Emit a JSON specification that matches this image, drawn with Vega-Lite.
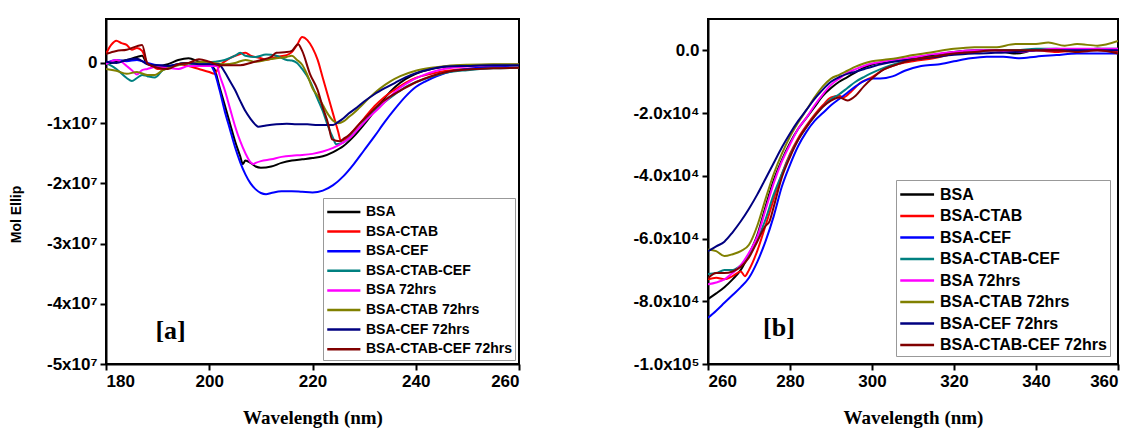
{
"$schema":"https://vega.github.io/schema/vega-lite/v6.json",
"background":"white",
"padding":{"left":8,"top":18,"right":5,"bottom":0},
"spacing":110,
"datasets":{
"a":[
{"s":"BSA","x":180,"y":-0.02e7},{"s":"BSA","x":182,"y":0.02e7},{"s":"BSA","x":184,"y":0.05e7},{"s":"BSA","x":186,"y":0.1e7},{"s":"BSA","x":187,"y":0.12e7},{"s":"BSA","x":188,"y":-0.02e7},{"s":"BSA","x":190,"y":-0.05e7},{"s":"BSA","x":192,"y":-0.02e7},{"s":"BSA","x":194,"y":0.05e7},{"s":"BSA","x":196,"y":0.08e7},{"s":"BSA","x":198,"y":0.02e7},{"s":"BSA","x":200,"y":-0.02e7},{"s":"BSA","x":201,"y":-0.1e7},{"s":"BSA","x":202,"y":-0.4e7},{"s":"BSA","x":203,"y":-0.7e7},{"s":"BSA","x":204,"y":-1.0e7},{"s":"BSA","x":205,"y":-1.3e7},{"s":"BSA","x":206,"y":-1.55e7},{"s":"BSA","x":206.5,"y":-1.68e7},{"s":"BSA","x":207,"y":-1.62e7},{"s":"BSA","x":208,"y":-1.66e7},{"s":"BSA","x":209,"y":-1.72e7},{"s":"BSA","x":210,"y":-1.74e7},{"s":"BSA","x":212,"y":-1.72e7},{"s":"BSA","x":214,"y":-1.66e7},{"s":"BSA","x":216,"y":-1.62e7},{"s":"BSA","x":218,"y":-1.6e7},{"s":"BSA","x":220,"y":-1.58e7},{"s":"BSA","x":222,"y":-1.55e7},{"s":"BSA","x":224,"y":-1.48e7},{"s":"BSA","x":226,"y":-1.38e7},{"s":"BSA","x":228,"y":-1.22e7},{"s":"BSA","x":230,"y":-1.02e7},{"s":"BSA","x":232,"y":-0.8e7},{"s":"BSA","x":234,"y":-0.58e7},{"s":"BSA","x":236,"y":-0.4e7},{"s":"BSA","x":238,"y":-0.27e7},{"s":"BSA","x":240,"y":-0.18e7},{"s":"BSA","x":243,"y":-0.1e7},{"s":"BSA","x":246,"y":-0.06e7},{"s":"BSA","x":250,"y":-0.04e7},{"s":"BSA","x":255,"y":-0.03e7},{"s":"BSA","x":260,"y":-0.03e7},
{"s":"BSA-CTAB","x":180,"y":0.15e7},{"s":"BSA-CTAB","x":181,"y":0.3e7},{"s":"BSA-CTAB","x":182,"y":0.37e7},{"s":"BSA-CTAB","x":183,"y":0.33e7},{"s":"BSA-CTAB","x":184,"y":0.3e7},{"s":"BSA-CTAB","x":185,"y":0.22e7},{"s":"BSA-CTAB","x":186,"y":0.25e7},{"s":"BSA-CTAB","x":187,"y":0.2e7},{"s":"BSA-CTAB","x":188,"y":0.0},{"s":"BSA-CTAB","x":189,"y":-0.05e7},{"s":"BSA-CTAB","x":190,"y":-0.1e7},{"s":"BSA-CTAB","x":192,"y":-0.08e7},{"s":"BSA-CTAB","x":194,"y":-0.02e7},{"s":"BSA-CTAB","x":196,"y":-0.05e7},{"s":"BSA-CTAB","x":198,"y":-0.1e7},{"s":"BSA-CTAB","x":200,"y":-0.15e7},{"s":"BSA-CTAB","x":201,"y":-0.18e7},{"s":"BSA-CTAB","x":202,"y":-0.05e7},{"s":"BSA-CTAB","x":204,"y":0.08e7},{"s":"BSA-CTAB","x":206,"y":0.15e7},{"s":"BSA-CTAB","x":207,"y":0.17e7},{"s":"BSA-CTAB","x":208,"y":0.12e7},{"s":"BSA-CTAB","x":210,"y":0.08e7},{"s":"BSA-CTAB","x":211,"y":0.05e7},{"s":"BSA-CTAB","x":213,"y":0.1e7},{"s":"BSA-CTAB","x":215,"y":0.13e7},{"s":"BSA-CTAB","x":216,"y":0.18e7},{"s":"BSA-CTAB","x":217,"y":0.3e7},{"s":"BSA-CTAB","x":218,"y":0.43e7},{"s":"BSA-CTAB","x":219,"y":0.38e7},{"s":"BSA-CTAB","x":220,"y":0.25e7},{"s":"BSA-CTAB","x":221,"y":0.05e7},{"s":"BSA-CTAB","x":222,"y":-0.25e7},{"s":"BSA-CTAB","x":223,"y":-0.55e7},{"s":"BSA-CTAB","x":224,"y":-0.85e7},{"s":"BSA-CTAB","x":225,"y":-1.15e7},{"s":"BSA-CTAB","x":225.5,"y":-1.3e7},{"s":"BSA-CTAB","x":226,"y":-1.28e7},{"s":"BSA-CTAB","x":227,"y":-1.22e7},{"s":"BSA-CTAB","x":228,"y":-1.12e7},{"s":"BSA-CTAB","x":230,"y":-0.92e7},{"s":"BSA-CTAB","x":232,"y":-0.72e7},{"s":"BSA-CTAB","x":234,"y":-0.56e7},{"s":"BSA-CTAB","x":236,"y":-0.44e7},{"s":"BSA-CTAB","x":238,"y":-0.33e7},{"s":"BSA-CTAB","x":240,"y":-0.25e7},{"s":"BSA-CTAB","x":243,"y":-0.18e7},{"s":"BSA-CTAB","x":246,"y":-0.13e7},{"s":"BSA-CTAB","x":250,"y":-0.1e7},{"s":"BSA-CTAB","x":255,"y":-0.08e7},{"s":"BSA-CTAB","x":260,"y":-0.08e7},
{"s":"BSA-CEF","x":180,"y":0.0},{"s":"BSA-CEF","x":182,"y":0.05e7},{"s":"BSA-CEF","x":184,"y":0.03e7},{"s":"BSA-CEF","x":186,"y":0.05e7},{"s":"BSA-CEF","x":188,"y":0.0},{"s":"BSA-CEF","x":190,"y":-0.04e7},{"s":"BSA-CEF","x":192,"y":-0.05e7},{"s":"BSA-CEF","x":194,"y":-0.02e7},{"s":"BSA-CEF","x":196,"y":0.0},{"s":"BSA-CEF","x":198,"y":-0.02e7},{"s":"BSA-CEF","x":200,"y":-0.02e7},{"s":"BSA-CEF","x":201,"y":-0.15e7},{"s":"BSA-CEF","x":202,"y":-0.45e7},{"s":"BSA-CEF","x":203,"y":-0.8e7},{"s":"BSA-CEF","x":204,"y":-1.1e7},{"s":"BSA-CEF","x":205,"y":-1.4e7},{"s":"BSA-CEF","x":206,"y":-1.65e7},{"s":"BSA-CEF","x":207,"y":-1.85e7},{"s":"BSA-CEF","x":208,"y":-2.0e7},{"s":"BSA-CEF","x":209,"y":-2.1e7},{"s":"BSA-CEF","x":210,"y":-2.16e7},{"s":"BSA-CEF","x":211,"y":-2.18e7},{"s":"BSA-CEF","x":212,"y":-2.16e7},{"s":"BSA-CEF","x":214,"y":-2.13e7},{"s":"BSA-CEF","x":216,"y":-2.13e7},{"s":"BSA-CEF","x":218,"y":-2.14e7},{"s":"BSA-CEF","x":220,"y":-2.15e7},{"s":"BSA-CEF","x":222,"y":-2.12e7},{"s":"BSA-CEF","x":224,"y":-2.03e7},{"s":"BSA-CEF","x":226,"y":-1.88e7},{"s":"BSA-CEF","x":228,"y":-1.68e7},{"s":"BSA-CEF","x":230,"y":-1.45e7},{"s":"BSA-CEF","x":232,"y":-1.22e7},{"s":"BSA-CEF","x":234,"y":-0.98e7},{"s":"BSA-CEF","x":236,"y":-0.76e7},{"s":"BSA-CEF","x":238,"y":-0.56e7},{"s":"BSA-CEF","x":240,"y":-0.4e7},{"s":"BSA-CEF","x":242,"y":-0.3e7},{"s":"BSA-CEF","x":244,"y":-0.22e7},{"s":"BSA-CEF","x":247,"y":-0.14e7},{"s":"BSA-CEF","x":250,"y":-0.1e7},{"s":"BSA-CEF","x":255,"y":-0.06e7},{"s":"BSA-CEF","x":260,"y":-0.04e7},
{"s":"BSA-CTAB-CEF","x":180,"y":0.0},{"s":"BSA-CTAB-CEF","x":182,"y":-0.1e7},{"s":"BSA-CTAB-CEF","x":184,"y":-0.25e7},{"s":"BSA-CTAB-CEF","x":185,"y":-0.3e7},{"s":"BSA-CTAB-CEF","x":186,"y":-0.25e7},{"s":"BSA-CTAB-CEF","x":187,"y":-0.2e7},{"s":"BSA-CTAB-CEF","x":188,"y":-0.22e7},{"s":"BSA-CTAB-CEF","x":189.5,"y":-0.24e7},{"s":"BSA-CTAB-CEF","x":191,"y":-0.12e7},{"s":"BSA-CTAB-CEF","x":193,"y":-0.05e7},{"s":"BSA-CTAB-CEF","x":195,"y":0.0},{"s":"BSA-CTAB-CEF","x":197,"y":-0.02e7},{"s":"BSA-CTAB-CEF","x":199,"y":0.0},{"s":"BSA-CTAB-CEF","x":201,"y":0.02e7},{"s":"BSA-CTAB-CEF","x":203,"y":0.05e7},{"s":"BSA-CTAB-CEF","x":205,"y":0.12e7},{"s":"BSA-CTAB-CEF","x":206,"y":0.17e7},{"s":"BSA-CTAB-CEF","x":207,"y":0.12e7},{"s":"BSA-CTAB-CEF","x":209,"y":0.1e7},{"s":"BSA-CTAB-CEF","x":211,"y":0.14e7},{"s":"BSA-CTAB-CEF","x":213,"y":0.12e7},{"s":"BSA-CTAB-CEF","x":215,"y":0.05e7},{"s":"BSA-CTAB-CEF","x":216,"y":0.04e7},{"s":"BSA-CTAB-CEF","x":217,"y":0.0},{"s":"BSA-CTAB-CEF","x":218,"y":-0.1e7},{"s":"BSA-CTAB-CEF","x":219.5,"y":-0.3e7},{"s":"BSA-CTAB-CEF","x":221,"y":-0.6e7},{"s":"BSA-CTAB-CEF","x":222,"y":-0.8e7},{"s":"BSA-CTAB-CEF","x":223,"y":-1.05e7},{"s":"BSA-CTAB-CEF","x":224,"y":-1.25e7},{"s":"BSA-CTAB-CEF","x":224.6,"y":-1.35e7},{"s":"BSA-CTAB-CEF","x":226,"y":-1.32e7},{"s":"BSA-CTAB-CEF","x":227,"y":-1.25e7},{"s":"BSA-CTAB-CEF","x":228,"y":-1.17e7},{"s":"BSA-CTAB-CEF","x":230,"y":-0.98e7},{"s":"BSA-CTAB-CEF","x":232,"y":-0.8e7},{"s":"BSA-CTAB-CEF","x":234,"y":-0.65e7},{"s":"BSA-CTAB-CEF","x":236,"y":-0.52e7},{"s":"BSA-CTAB-CEF","x":238,"y":-0.4e7},{"s":"BSA-CTAB-CEF","x":240,"y":-0.32e7},{"s":"BSA-CTAB-CEF","x":243,"y":-0.23e7},{"s":"BSA-CTAB-CEF","x":246,"y":-0.16e7},{"s":"BSA-CTAB-CEF","x":250,"y":-0.12e7},{"s":"BSA-CTAB-CEF","x":255,"y":-0.09e7},{"s":"BSA-CTAB-CEF","x":260,"y":-0.08e7},
{"s":"BSA 72hrs","x":180,"y":-0.02e7},{"s":"BSA 72hrs","x":182,"y":0.05e7},{"s":"BSA 72hrs","x":183,"y":0.02e7},{"s":"BSA 72hrs","x":184,"y":-0.05e7},{"s":"BSA 72hrs","x":185,"y":-0.12e7},{"s":"BSA 72hrs","x":186,"y":-0.19e7},{"s":"BSA 72hrs","x":187,"y":-0.12e7},{"s":"BSA 72hrs","x":188,"y":-0.1e7},{"s":"BSA 72hrs","x":190,"y":-0.06e7},{"s":"BSA 72hrs","x":192,"y":-0.08e7},{"s":"BSA 72hrs","x":194,"y":-0.1e7},{"s":"BSA 72hrs","x":196,"y":-0.05e7},{"s":"BSA 72hrs","x":198,"y":-0.05e7},{"s":"BSA 72hrs","x":200,"y":-0.05e7},{"s":"BSA 72hrs","x":201.5,"y":-0.05e7},{"s":"BSA 72hrs","x":202,"y":-0.2e7},{"s":"BSA 72hrs","x":203,"y":-0.45e7},{"s":"BSA 72hrs","x":204,"y":-0.75e7},{"s":"BSA 72hrs","x":205,"y":-1.05e7},{"s":"BSA 72hrs","x":206,"y":-1.3e7},{"s":"BSA 72hrs","x":207,"y":-1.5e7},{"s":"BSA 72hrs","x":208,"y":-1.65e7},{"s":"BSA 72hrs","x":208.5,"y":-1.68e7},{"s":"BSA 72hrs","x":209,"y":-1.66e7},{"s":"BSA 72hrs","x":210,"y":-1.63e7},{"s":"BSA 72hrs","x":212,"y":-1.6e7},{"s":"BSA 72hrs","x":214,"y":-1.56e7},{"s":"BSA 72hrs","x":216,"y":-1.54e7},{"s":"BSA 72hrs","x":218,"y":-1.53e7},{"s":"BSA 72hrs","x":220,"y":-1.51e7},{"s":"BSA 72hrs","x":222,"y":-1.47e7},{"s":"BSA 72hrs","x":224,"y":-1.41e7},{"s":"BSA 72hrs","x":226,"y":-1.32e7},{"s":"BSA 72hrs","x":227.3,"y":-1.24e7},{"s":"BSA 72hrs","x":229,"y":-1.08e7},{"s":"BSA 72hrs","x":231,"y":-0.9e7},{"s":"BSA 72hrs","x":233,"y":-0.74e7},{"s":"BSA 72hrs","x":235,"y":-0.56e7},{"s":"BSA 72hrs","x":237,"y":-0.41e7},{"s":"BSA 72hrs","x":239,"y":-0.3e7},{"s":"BSA 72hrs","x":241,"y":-0.22e7},{"s":"BSA 72hrs","x":244,"y":-0.13e7},{"s":"BSA 72hrs","x":247,"y":-0.08e7},{"s":"BSA 72hrs","x":250,"y":-0.06e7},{"s":"BSA 72hrs","x":255,"y":-0.04e7},{"s":"BSA 72hrs","x":260,"y":-0.03e7},
{"s":"BSA-CTAB 72hrs","x":180,"y":-0.1e7},{"s":"BSA-CTAB 72hrs","x":182,"y":-0.13e7},{"s":"BSA-CTAB 72hrs","x":184,"y":-0.18e7},{"s":"BSA-CTAB 72hrs","x":186,"y":-0.15e7},{"s":"BSA-CTAB 72hrs","x":188,"y":-0.2e7},{"s":"BSA-CTAB 72hrs","x":189.5,"y":-0.2e7},{"s":"BSA-CTAB 72hrs","x":191,"y":-0.12e7},{"s":"BSA-CTAB 72hrs","x":193,"y":-0.06e7},{"s":"BSA-CTAB 72hrs","x":195,"y":-0.02e7},{"s":"BSA-CTAB 72hrs","x":197,"y":0.0},{"s":"BSA-CTAB 72hrs","x":199,"y":0.02e7},{"s":"BSA-CTAB 72hrs","x":201,"y":0.0},{"s":"BSA-CTAB 72hrs","x":203,"y":-0.02e7},{"s":"BSA-CTAB 72hrs","x":205,"y":0.0},{"s":"BSA-CTAB 72hrs","x":207,"y":0.05e7},{"s":"BSA-CTAB 72hrs","x":209,"y":0.02e7},{"s":"BSA-CTAB 72hrs","x":211,"y":0.05e7},{"s":"BSA-CTAB 72hrs","x":213,"y":0.08e7},{"s":"BSA-CTAB 72hrs","x":215,"y":0.1e7},{"s":"BSA-CTAB 72hrs","x":216,"y":0.12e7},{"s":"BSA-CTAB 72hrs","x":217,"y":0.05e7},{"s":"BSA-CTAB 72hrs","x":218,"y":-0.03e7},{"s":"BSA-CTAB 72hrs","x":219,"y":-0.2e7},{"s":"BSA-CTAB 72hrs","x":220,"y":-0.42e7},{"s":"BSA-CTAB 72hrs","x":221,"y":-0.55e7},{"s":"BSA-CTAB 72hrs","x":222,"y":-0.7e7},{"s":"BSA-CTAB 72hrs","x":223,"y":-0.85e7},{"s":"BSA-CTAB 72hrs","x":224,"y":-0.96e7},{"s":"BSA-CTAB 72hrs","x":225,"y":-1.0e7},{"s":"BSA-CTAB 72hrs","x":226,"y":-0.97e7},{"s":"BSA-CTAB 72hrs","x":227,"y":-0.9e7},{"s":"BSA-CTAB 72hrs","x":228,"y":-0.83e7},{"s":"BSA-CTAB 72hrs","x":229,"y":-0.75e7},{"s":"BSA-CTAB 72hrs","x":231,"y":-0.58e7},{"s":"BSA-CTAB 72hrs","x":233,"y":-0.43e7},{"s":"BSA-CTAB 72hrs","x":235,"y":-0.31e7},{"s":"BSA-CTAB 72hrs","x":237,"y":-0.22e7},{"s":"BSA-CTAB 72hrs","x":240,"y":-0.13e7},{"s":"BSA-CTAB 72hrs","x":243,"y":-0.08e7},{"s":"BSA-CTAB 72hrs","x":246,"y":-0.05e7},{"s":"BSA-CTAB 72hrs","x":250,"y":-0.03e7},{"s":"BSA-CTAB 72hrs","x":255,"y":-0.02e7},{"s":"BSA-CTAB 72hrs","x":260,"y":-0.02e7},
{"s":"BSA-CEF 72hrs","x":180,"y":0.02e7},{"s":"BSA-CEF 72hrs","x":182,"y":0.0},{"s":"BSA-CEF 72hrs","x":184,"y":0.05e7},{"s":"BSA-CEF 72hrs","x":186,"y":0.07e7},{"s":"BSA-CEF 72hrs","x":188,"y":-0.02e7},{"s":"BSA-CEF 72hrs","x":190,"y":-0.04e7},{"s":"BSA-CEF 72hrs","x":192,"y":-0.05e7},{"s":"BSA-CEF 72hrs","x":194,"y":-0.02e7},{"s":"BSA-CEF 72hrs","x":196,"y":0.0},{"s":"BSA-CEF 72hrs","x":198,"y":-0.02e7},{"s":"BSA-CEF 72hrs","x":200,"y":-0.02e7},{"s":"BSA-CEF 72hrs","x":201.8,"y":-0.02e7},{"s":"BSA-CEF 72hrs","x":203,"y":-0.15e7},{"s":"BSA-CEF 72hrs","x":204,"y":-0.3e7},{"s":"BSA-CEF 72hrs","x":205,"y":-0.45e7},{"s":"BSA-CEF 72hrs","x":206,"y":-0.63e7},{"s":"BSA-CEF 72hrs","x":207,"y":-0.8e7},{"s":"BSA-CEF 72hrs","x":208,"y":-0.93e7},{"s":"BSA-CEF 72hrs","x":209,"y":-1.03e7},{"s":"BSA-CEF 72hrs","x":209.5,"y":-1.06e7},{"s":"BSA-CEF 72hrs","x":211,"y":-1.04e7},{"s":"BSA-CEF 72hrs","x":213,"y":-1.02e7},{"s":"BSA-CEF 72hrs","x":215,"y":-1.01e7},{"s":"BSA-CEF 72hrs","x":217,"y":-1.02e7},{"s":"BSA-CEF 72hrs","x":219,"y":-1.02e7},{"s":"BSA-CEF 72hrs","x":221,"y":-1.03e7},{"s":"BSA-CEF 72hrs","x":223,"y":-1.03e7},{"s":"BSA-CEF 72hrs","x":224,"y":-1.03e7},{"s":"BSA-CEF 72hrs","x":225,"y":-0.98e7},{"s":"BSA-CEF 72hrs","x":226,"y":-0.92e7},{"s":"BSA-CEF 72hrs","x":227,"y":-0.84e7},{"s":"BSA-CEF 72hrs","x":228.6,"y":-0.74e7},{"s":"BSA-CEF 72hrs","x":230,"y":-0.64e7},{"s":"BSA-CEF 72hrs","x":232,"y":-0.52e7},{"s":"BSA-CEF 72hrs","x":234,"y":-0.42e7},{"s":"BSA-CEF 72hrs","x":236,"y":-0.33e7},{"s":"BSA-CEF 72hrs","x":238,"y":-0.24e7},{"s":"BSA-CEF 72hrs","x":240,"y":-0.17e7},{"s":"BSA-CEF 72hrs","x":243,"y":-0.1e7},{"s":"BSA-CEF 72hrs","x":246,"y":-0.06e7},{"s":"BSA-CEF 72hrs","x":250,"y":-0.05e7},{"s":"BSA-CEF 72hrs","x":255,"y":-0.04e7},{"s":"BSA-CEF 72hrs","x":260,"y":-0.04e7},
{"s":"BSA-CTAB-CEF 72hrs","x":180,"y":0.15e7},{"s":"BSA-CTAB-CEF 72hrs","x":182,"y":0.2e7},{"s":"BSA-CTAB-CEF 72hrs","x":184,"y":0.22e7},{"s":"BSA-CTAB-CEF 72hrs","x":186,"y":0.28e7},{"s":"BSA-CTAB-CEF 72hrs","x":187,"y":0.3e7},{"s":"BSA-CTAB-CEF 72hrs","x":188,"y":-0.01e7},{"s":"BSA-CTAB-CEF 72hrs","x":190,"y":-0.08e7},{"s":"BSA-CTAB-CEF 72hrs","x":192,"y":-0.1e7},{"s":"BSA-CTAB-CEF 72hrs","x":194,"y":-0.02e7},{"s":"BSA-CTAB-CEF 72hrs","x":196,"y":0.0},{"s":"BSA-CTAB-CEF 72hrs","x":198,"y":0.06e7},{"s":"BSA-CTAB-CEF 72hrs","x":200,"y":0.02e7},{"s":"BSA-CTAB-CEF 72hrs","x":202,"y":-0.04e7},{"s":"BSA-CTAB-CEF 72hrs","x":204,"y":-0.04e7},{"s":"BSA-CTAB-CEF 72hrs","x":206,"y":-0.04e7},{"s":"BSA-CTAB-CEF 72hrs","x":208,"y":0.0},{"s":"BSA-CTAB-CEF 72hrs","x":210,"y":0.05e7},{"s":"BSA-CTAB-CEF 72hrs","x":212,"y":0.1e7},{"s":"BSA-CTAB-CEF 72hrs","x":213,"y":0.17e7},{"s":"BSA-CTAB-CEF 72hrs","x":215,"y":0.18e7},{"s":"BSA-CTAB-CEF 72hrs","x":216,"y":0.2e7},{"s":"BSA-CTAB-CEF 72hrs","x":217.2,"y":0.31e7},{"s":"BSA-CTAB-CEF 72hrs","x":218,"y":0.2e7},{"s":"BSA-CTAB-CEF 72hrs","x":219.5,"y":-0.18e7},{"s":"BSA-CTAB-CEF 72hrs","x":221,"y":-0.45e7},{"s":"BSA-CTAB-CEF 72hrs","x":222,"y":-0.74e7},{"s":"BSA-CTAB-CEF 72hrs","x":223,"y":-1.0e7},{"s":"BSA-CTAB-CEF 72hrs","x":223.8,"y":-1.27e7},{"s":"BSA-CTAB-CEF 72hrs","x":225.3,"y":-1.3e7},{"s":"BSA-CTAB-CEF 72hrs","x":226,"y":-1.26e7},{"s":"BSA-CTAB-CEF 72hrs","x":227,"y":-1.2e7},{"s":"BSA-CTAB-CEF 72hrs","x":229,"y":-1.02e7},{"s":"BSA-CTAB-CEF 72hrs","x":231,"y":-0.85e7},{"s":"BSA-CTAB-CEF 72hrs","x":233,"y":-0.68e7},{"s":"BSA-CTAB-CEF 72hrs","x":235,"y":-0.56e7},{"s":"BSA-CTAB-CEF 72hrs","x":237,"y":-0.46e7},{"s":"BSA-CTAB-CEF 72hrs","x":240,"y":-0.32e7},{"s":"BSA-CTAB-CEF 72hrs","x":243,"y":-0.22e7},{"s":"BSA-CTAB-CEF 72hrs","x":246,"y":-0.15e7},{"s":"BSA-CTAB-CEF 72hrs","x":250,"y":-0.11e7},{"s":"BSA-CTAB-CEF 72hrs","x":255,"y":-0.09e7},{"s":"BSA-CTAB-CEF 72hrs","x":260,"y":-0.08e7}
],
"b":[
{"s":"BSA","x":260,"y":-7.93e4},{"s":"BSA","x":262,"y":-7.75e4},{"s":"BSA","x":264,"y":-7.55e4},{"s":"BSA","x":266,"y":-7.3e4},{"s":"BSA","x":268,"y":-7.0e4},{"s":"BSA","x":270,"y":-6.5e4},{"s":"BSA","x":272,"y":-5.9e4},{"s":"BSA","x":274,"y":-5.0e4},{"s":"BSA","x":276,"y":-4.15e4},{"s":"BSA","x":278,"y":-3.5e4},{"s":"BSA","x":280,"y":-2.95e4},{"s":"BSA","x":282,"y":-2.5e4},{"s":"BSA","x":284,"y":-2.15e4},{"s":"BSA","x":286,"y":-1.8e4},{"s":"BSA","x":288,"y":-1.45e4},{"s":"BSA","x":290,"y":-1.2e4},{"s":"BSA","x":292,"y":-1.0e4},{"s":"BSA","x":294,"y":-0.85e4},{"s":"BSA","x":296,"y":-0.7e4},{"s":"BSA","x":298,"y":-0.55e4},{"s":"BSA","x":300,"y":-0.45e4},{"s":"BSA","x":303,"y":-0.38e4},{"s":"BSA","x":306,"y":-0.33e4},{"s":"BSA","x":310,"y":-0.25e4},{"s":"BSA","x":315,"y":-0.15e4},{"s":"BSA","x":320,"y":-0.05e4},{"s":"BSA","x":325,"y":0},{"s":"BSA","x":330,"y":0},{"s":"BSA","x":335,"y":-0.1e4},{"s":"BSA","x":340,"y":0},{"s":"BSA","x":345,"y":0},{"s":"BSA","x":350,"y":0},{"s":"BSA","x":355,"y":0.05e4},{"s":"BSA","x":360,"y":0},
{"s":"BSA-CTAB","x":260,"y":-7.3e4},{"s":"BSA-CTAB","x":262,"y":-7.25e4},{"s":"BSA-CTAB","x":264,"y":-7.3e4},{"s":"BSA-CTAB","x":266,"y":-7.2e4},{"s":"BSA-CTAB","x":268,"y":-7.05e4},{"s":"BSA-CTAB","x":269,"y":-7.2e4},{"s":"BSA-CTAB","x":270,"y":-7.0e4},{"s":"BSA-CTAB","x":272,"y":-6.4e4},{"s":"BSA-CTAB","x":274,"y":-5.6e4},{"s":"BSA-CTAB","x":276,"y":-4.75e4},{"s":"BSA-CTAB","x":278,"y":-3.95e4},{"s":"BSA-CTAB","x":280,"y":-3.3e4},{"s":"BSA-CTAB","x":282,"y":-2.8e4},{"s":"BSA-CTAB","x":284,"y":-2.4e4},{"s":"BSA-CTAB","x":286,"y":-2.05e4},{"s":"BSA-CTAB","x":288,"y":-1.75e4},{"s":"BSA-CTAB","x":290,"y":-1.5e4},{"s":"BSA-CTAB","x":292,"y":-1.45e4},{"s":"BSA-CTAB","x":293,"y":-1.5e4},{"s":"BSA-CTAB","x":295,"y":-1.3e4},{"s":"BSA-CTAB","x":297,"y":-1.05e4},{"s":"BSA-CTAB","x":300,"y":-0.85e4},{"s":"BSA-CTAB","x":303,"y":-0.6e4},{"s":"BSA-CTAB","x":306,"y":-0.45e4},{"s":"BSA-CTAB","x":310,"y":-0.35e4},{"s":"BSA-CTAB","x":315,"y":-0.25e4},{"s":"BSA-CTAB","x":320,"y":-0.12e4},{"s":"BSA-CTAB","x":325,"y":-0.05e4},{"s":"BSA-CTAB","x":330,"y":0},{"s":"BSA-CTAB","x":335,"y":0},{"s":"BSA-CTAB","x":340,"y":0},{"s":"BSA-CTAB","x":345,"y":-0.05e4},{"s":"BSA-CTAB","x":350,"y":0},{"s":"BSA-CTAB","x":355,"y":0},{"s":"BSA-CTAB","x":360,"y":-0.05e4},
{"s":"BSA-CEF","x":260,"y":-8.53e4},{"s":"BSA-CEF","x":262,"y":-8.3e4},{"s":"BSA-CEF","x":264,"y":-8.05e4},{"s":"BSA-CEF","x":266,"y":-7.8e4},{"s":"BSA-CEF","x":268,"y":-7.55e4},{"s":"BSA-CEF","x":270,"y":-7.25e4},{"s":"BSA-CEF","x":272,"y":-6.75e4},{"s":"BSA-CEF","x":274,"y":-6.1e4},{"s":"BSA-CEF","x":276,"y":-5.3e4},{"s":"BSA-CEF","x":278,"y":-4.35e4},{"s":"BSA-CEF","x":280,"y":-3.65e4},{"s":"BSA-CEF","x":282,"y":-3.05e4},{"s":"BSA-CEF","x":284,"y":-2.6e4},{"s":"BSA-CEF","x":286,"y":-2.25e4},{"s":"BSA-CEF","x":288,"y":-2.0e4},{"s":"BSA-CEF","x":290,"y":-1.75e4},{"s":"BSA-CEF","x":292,"y":-1.55e4},{"s":"BSA-CEF","x":294,"y":-1.35e4},{"s":"BSA-CEF","x":296,"y":-1.15e4},{"s":"BSA-CEF","x":298,"y":-0.98e4},{"s":"BSA-CEF","x":300,"y":-0.9e4},{"s":"BSA-CEF","x":302,"y":-0.9e4},{"s":"BSA-CEF","x":305,"y":-0.83e4},{"s":"BSA-CEF","x":308,"y":-0.65e4},{"s":"BSA-CEF","x":312,"y":-0.5e4},{"s":"BSA-CEF","x":316,"y":-0.45e4},{"s":"BSA-CEF","x":320,"y":-0.35e4},{"s":"BSA-CEF","x":324,"y":-0.25e4},{"s":"BSA-CEF","x":328,"y":-0.2e4},{"s":"BSA-CEF","x":332,"y":-0.2e4},{"s":"BSA-CEF","x":336,"y":-0.25e4},{"s":"BSA-CEF","x":340,"y":-0.2e4},{"s":"BSA-CEF","x":345,"y":-0.15e4},{"s":"BSA-CEF","x":350,"y":-0.1e4},{"s":"BSA-CEF","x":355,"y":-0.1e4},{"s":"BSA-CEF","x":360,"y":-0.1e4},
{"s":"BSA-CTAB-CEF","x":260,"y":-7.13e4},{"s":"BSA-CTAB-CEF","x":262,"y":-7.1e4},{"s":"BSA-CTAB-CEF","x":264,"y":-7.0e4},{"s":"BSA-CTAB-CEF","x":266,"y":-7.0e4},{"s":"BSA-CTAB-CEF","x":268,"y":-6.85e4},{"s":"BSA-CTAB-CEF","x":270,"y":-6.55e4},{"s":"BSA-CTAB-CEF","x":272,"y":-6.05e4},{"s":"BSA-CTAB-CEF","x":274,"y":-5.4e4},{"s":"BSA-CTAB-CEF","x":276,"y":-4.6e4},{"s":"BSA-CTAB-CEF","x":278,"y":-3.95e4},{"s":"BSA-CTAB-CEF","x":280,"y":-3.35e4},{"s":"BSA-CTAB-CEF","x":282,"y":-2.85e4},{"s":"BSA-CTAB-CEF","x":284,"y":-2.45e4},{"s":"BSA-CTAB-CEF","x":286,"y":-2.1e4},{"s":"BSA-CTAB-CEF","x":288,"y":-1.8e4},{"s":"BSA-CTAB-CEF","x":290,"y":-1.55e4},{"s":"BSA-CTAB-CEF","x":292,"y":-1.4e4},{"s":"BSA-CTAB-CEF","x":294,"y":-1.2e4},{"s":"BSA-CTAB-CEF","x":296,"y":-1.0e4},{"s":"BSA-CTAB-CEF","x":298,"y":-0.85e4},{"s":"BSA-CTAB-CEF","x":300,"y":-0.72e4},{"s":"BSA-CTAB-CEF","x":303,"y":-0.55e4},{"s":"BSA-CTAB-CEF","x":306,"y":-0.42e4},{"s":"BSA-CTAB-CEF","x":310,"y":-0.3e4},{"s":"BSA-CTAB-CEF","x":315,"y":-0.2e4},{"s":"BSA-CTAB-CEF","x":320,"y":-0.1e4},{"s":"BSA-CTAB-CEF","x":325,"y":-0.05e4},{"s":"BSA-CTAB-CEF","x":330,"y":0},{"s":"BSA-CTAB-CEF","x":335,"y":0},{"s":"BSA-CTAB-CEF","x":340,"y":0.05e4},{"s":"BSA-CTAB-CEF","x":345,"y":0.05e4},{"s":"BSA-CTAB-CEF","x":350,"y":0},{"s":"BSA-CTAB-CEF","x":355,"y":0.05e4},{"s":"BSA-CTAB-CEF","x":360,"y":0.05e4},
{"s":"BSA 72hrs","x":260,"y":-7.46e4},{"s":"BSA 72hrs","x":262,"y":-7.4e4},{"s":"BSA 72hrs","x":264,"y":-7.3e4},{"s":"BSA 72hrs","x":266,"y":-7.1e4},{"s":"BSA 72hrs","x":268,"y":-6.85e4},{"s":"BSA 72hrs","x":270,"y":-6.45e4},{"s":"BSA 72hrs","x":272,"y":-5.95e4},{"s":"BSA 72hrs","x":274,"y":-5.1e4},{"s":"BSA 72hrs","x":276,"y":-4.25e4},{"s":"BSA 72hrs","x":278,"y":-3.55e4},{"s":"BSA 72hrs","x":280,"y":-3.0e4},{"s":"BSA 72hrs","x":282,"y":-2.5e4},{"s":"BSA 72hrs","x":284,"y":-2.15e4},{"s":"BSA 72hrs","x":286,"y":-1.75e4},{"s":"BSA 72hrs","x":288,"y":-1.4e4},{"s":"BSA 72hrs","x":290,"y":-1.1e4},{"s":"BSA 72hrs","x":292,"y":-0.9e4},{"s":"BSA 72hrs","x":294,"y":-0.72e4},{"s":"BSA 72hrs","x":296,"y":-0.6e4},{"s":"BSA 72hrs","x":298,"y":-0.5e4},{"s":"BSA 72hrs","x":300,"y":-0.42e4},{"s":"BSA 72hrs","x":303,"y":-0.35e4},{"s":"BSA 72hrs","x":306,"y":-0.3e4},{"s":"BSA 72hrs","x":310,"y":-0.22e4},{"s":"BSA 72hrs","x":315,"y":-0.12e4},{"s":"BSA 72hrs","x":320,"y":-0.05e4},{"s":"BSA 72hrs","x":325,"y":0},{"s":"BSA 72hrs","x":330,"y":0},{"s":"BSA 72hrs","x":335,"y":-0.05e4},{"s":"BSA 72hrs","x":340,"y":0},{"s":"BSA 72hrs","x":345,"y":0.05e4},{"s":"BSA 72hrs","x":350,"y":0.05e4},{"s":"BSA 72hrs","x":355,"y":0.05e4},{"s":"BSA 72hrs","x":360,"y":0.05e4},
{"s":"BSA-CTAB 72hrs","x":260,"y":-6.35e4},{"s":"BSA-CTAB 72hrs","x":262,"y":-6.4e4},{"s":"BSA-CTAB 72hrs","x":264,"y":-6.56e4},{"s":"BSA-CTAB 72hrs","x":266,"y":-6.5e4},{"s":"BSA-CTAB 72hrs","x":268,"y":-6.4e4},{"s":"BSA-CTAB 72hrs","x":270,"y":-6.2e4},{"s":"BSA-CTAB 72hrs","x":272,"y":-5.6e4},{"s":"BSA-CTAB 72hrs","x":274,"y":-4.75e4},{"s":"BSA-CTAB 72hrs","x":276,"y":-3.95e4},{"s":"BSA-CTAB 72hrs","x":278,"y":-3.3e4},{"s":"BSA-CTAB 72hrs","x":280,"y":-2.75e4},{"s":"BSA-CTAB 72hrs","x":282,"y":-2.3e4},{"s":"BSA-CTAB 72hrs","x":284,"y":-1.9e4},{"s":"BSA-CTAB 72hrs","x":286,"y":-1.5e4},{"s":"BSA-CTAB 72hrs","x":288,"y":-1.15e4},{"s":"BSA-CTAB 72hrs","x":290,"y":-0.9e4},{"s":"BSA-CTAB 72hrs","x":292,"y":-0.78e4},{"s":"BSA-CTAB 72hrs","x":294,"y":-0.65e4},{"s":"BSA-CTAB 72hrs","x":296,"y":-0.52e4},{"s":"BSA-CTAB 72hrs","x":298,"y":-0.42e4},{"s":"BSA-CTAB 72hrs","x":300,"y":-0.35e4},{"s":"BSA-CTAB 72hrs","x":303,"y":-0.3e4},{"s":"BSA-CTAB 72hrs","x":306,"y":-0.25e4},{"s":"BSA-CTAB 72hrs","x":310,"y":-0.15e4},{"s":"BSA-CTAB 72hrs","x":315,"y":-0.05e4},{"s":"BSA-CTAB 72hrs","x":320,"y":0.05e4},{"s":"BSA-CTAB 72hrs","x":325,"y":0.1e4},{"s":"BSA-CTAB 72hrs","x":330,"y":0.1e4},{"s":"BSA-CTAB 72hrs","x":335,"y":0.2e4},{"s":"BSA-CTAB 72hrs","x":340,"y":0.2e4},{"s":"BSA-CTAB 72hrs","x":343,"y":0.25e4},{"s":"BSA-CTAB 72hrs","x":347,"y":0.15e4},{"s":"BSA-CTAB 72hrs","x":350,"y":0.2e4},{"s":"BSA-CTAB 72hrs","x":355,"y":0.15e4},{"s":"BSA-CTAB 72hrs","x":360,"y":0.3e4},
{"s":"BSA-CEF 72hrs","x":260,"y":-6.4e4},{"s":"BSA-CEF 72hrs","x":262,"y":-6.25e4},{"s":"BSA-CEF 72hrs","x":264,"y":-6.1e4},{"s":"BSA-CEF 72hrs","x":266,"y":-5.8e4},{"s":"BSA-CEF 72hrs","x":268,"y":-5.45e4},{"s":"BSA-CEF 72hrs","x":270,"y":-5.05e4},{"s":"BSA-CEF 72hrs","x":272,"y":-4.6e4},{"s":"BSA-CEF 72hrs","x":274,"y":-4.1e4},{"s":"BSA-CEF 72hrs","x":276,"y":-3.6e4},{"s":"BSA-CEF 72hrs","x":278,"y":-3.1e4},{"s":"BSA-CEF 72hrs","x":280,"y":-2.65e4},{"s":"BSA-CEF 72hrs","x":282,"y":-2.25e4},{"s":"BSA-CEF 72hrs","x":284,"y":-1.9e4},{"s":"BSA-CEF 72hrs","x":286,"y":-1.55e4},{"s":"BSA-CEF 72hrs","x":288,"y":-1.25e4},{"s":"BSA-CEF 72hrs","x":290,"y":-1.0e4},{"s":"BSA-CEF 72hrs","x":292,"y":-0.85e4},{"s":"BSA-CEF 72hrs","x":294,"y":-0.75e4},{"s":"BSA-CEF 72hrs","x":296,"y":-0.68e4},{"s":"BSA-CEF 72hrs","x":298,"y":-0.6e4},{"s":"BSA-CEF 72hrs","x":300,"y":-0.52e4},{"s":"BSA-CEF 72hrs","x":303,"y":-0.42e4},{"s":"BSA-CEF 72hrs","x":306,"y":-0.35e4},{"s":"BSA-CEF 72hrs","x":310,"y":-0.3e4},{"s":"BSA-CEF 72hrs","x":315,"y":-0.22e4},{"s":"BSA-CEF 72hrs","x":320,"y":-0.14e4},{"s":"BSA-CEF 72hrs","x":325,"y":-0.1e4},{"s":"BSA-CEF 72hrs","x":330,"y":-0.08e4},{"s":"BSA-CEF 72hrs","x":335,"y":-0.05e4},{"s":"BSA-CEF 72hrs","x":340,"y":0},{"s":"BSA-CEF 72hrs","x":345,"y":0},{"s":"BSA-CEF 72hrs","x":350,"y":0},{"s":"BSA-CEF 72hrs","x":355,"y":0},{"s":"BSA-CEF 72hrs","x":360,"y":0},
{"s":"BSA-CTAB-CEF 72hrs","x":260,"y":-7.27e4},{"s":"BSA-CTAB-CEF 72hrs","x":262,"y":-7.1e4},{"s":"BSA-CTAB-CEF 72hrs","x":264,"y":-7.1e4},{"s":"BSA-CTAB-CEF 72hrs","x":266,"y":-7.05e4},{"s":"BSA-CTAB-CEF 72hrs","x":268,"y":-6.9e4},{"s":"BSA-CTAB-CEF 72hrs","x":270,"y":-6.6e4},{"s":"BSA-CTAB-CEF 72hrs","x":272,"y":-6.1e4},{"s":"BSA-CTAB-CEF 72hrs","x":274,"y":-5.6e4},{"s":"BSA-CTAB-CEF 72hrs","x":275,"y":-5.45e4},{"s":"BSA-CTAB-CEF 72hrs","x":276,"y":-5.0e4},{"s":"BSA-CTAB-CEF 72hrs","x":278,"y":-4.05e4},{"s":"BSA-CTAB-CEF 72hrs","x":280,"y":-3.4e4},{"s":"BSA-CTAB-CEF 72hrs","x":282,"y":-2.85e4},{"s":"BSA-CTAB-CEF 72hrs","x":284,"y":-2.45e4},{"s":"BSA-CTAB-CEF 72hrs","x":286,"y":-2.1e4},{"s":"BSA-CTAB-CEF 72hrs","x":288,"y":-1.8e4},{"s":"BSA-CTAB-CEF 72hrs","x":290,"y":-1.6e4},{"s":"BSA-CTAB-CEF 72hrs","x":292,"y":-1.5e4},{"s":"BSA-CTAB-CEF 72hrs","x":294,"y":-1.6e4},{"s":"BSA-CTAB-CEF 72hrs","x":296,"y":-1.45e4},{"s":"BSA-CTAB-CEF 72hrs","x":298,"y":-1.15e4},{"s":"BSA-CTAB-CEF 72hrs","x":300,"y":-0.9e4},{"s":"BSA-CTAB-CEF 72hrs","x":303,"y":-0.6e4},{"s":"BSA-CTAB-CEF 72hrs","x":306,"y":-0.45e4},{"s":"BSA-CTAB-CEF 72hrs","x":310,"y":-0.3e4},{"s":"BSA-CTAB-CEF 72hrs","x":315,"y":-0.2e4},{"s":"BSA-CTAB-CEF 72hrs","x":320,"y":-0.1e4},{"s":"BSA-CTAB-CEF 72hrs","x":325,"y":-0.05e4},{"s":"BSA-CTAB-CEF 72hrs","x":330,"y":0},{"s":"BSA-CTAB-CEF 72hrs","x":335,"y":0},{"s":"BSA-CTAB-CEF 72hrs","x":340,"y":0},{"s":"BSA-CTAB-CEF 72hrs","x":345,"y":0},{"s":"BSA-CTAB-CEF 72hrs","x":350,"y":-0.05e4},{"s":"BSA-CTAB-CEF 72hrs","x":355,"y":0},{"s":"BSA-CTAB-CEF 72hrs","x":360,"y":-0.1e4}
],
"la":[{"x":192.5,"y":-4.45e7,"t":"[a]"}],
"lb":[{"x":277.3,"y":-8.85e4,"t":"[b]"}]
},
"hconcat":[
{
"width":413,"height":345,
"layer":[
{"data":{"name":"a"},"mark":{"type":"line","strokeWidth":2,"interpolate":"monotone","clip":true},
"encoding":{
"x":{"field":"x","type":"quantitative","scale":{"domain":[180,260],"nice":false,"zero":false},
"axis":{"title":"Wavelength (nm)","values":[180,200,220,240,260],"format":"d","titleFont":"Liberation Serif","titleFontSize":19,"titleFontWeight":"bold","titlePadding":19}},
"y":{"field":"y","type":"quantitative","scale":{"domain":[-5e7,0.73e7],"nice":false,"zero":false},
"axis":{"title":"Mol Ellip","values":[-5e7,-4e7,-3e7,-2e7,-1e7,0],"labelExpr":"datum.value == 0 ? '0' : '-' + (-datum.value/1e7) + 'x10⁷'","titleFont":"Liberation Sans","titleFontSize":14,"titleFontWeight":"bold","titlePadding":23,"titleY":195}},
"color":{"field":"s","type":"nominal","sort":null,
"scale":{"domain":["BSA","BSA-CTAB","BSA-CEF","BSA-CTAB-CEF","BSA 72hrs","BSA-CTAB 72hrs","BSA-CEF 72hrs","BSA-CTAB-CEF 72hrs"],"range":["#000000","#ff0000","#0000ff","#008080","#ff00ff","#808000","#000080","#800000"]},
"legend":{"title":null,"orient":"bottom-right","offset":4,"strokeColor":"#999999","padding":3,"labelFont":"Liberation Sans","labelFontWeight":"bold","labelFontSize":14,"labelColor":"black","labelLimit":300,"symbolType":"M-1,0H2.4","symbolSize":380,"symbolStrokeWidth":2.5,"rowPadding":1.6,"labelOffset":18,"fillColor":"white"}}
}},
{"data":{"name":"la"},"mark":{"type":"text","font":"Liberation Serif","fontSize":26,"fontWeight":"bold","color":"black"},
"encoding":{"x":{"field":"x","type":"quantitative"},"y":{"field":"y","type":"quantitative"},"text":{"field":"t"}}}
]
},
{
"width":410,"height":345,
"layer":[
{"data":{"name":"b"},"mark":{"type":"line","strokeWidth":2,"interpolate":"monotone","clip":true},
"encoding":{
"x":{"field":"x","type":"quantitative","scale":{"domain":[260,360],"nice":false,"zero":false},
"axis":{"title":"Wavelength (nm)","values":[260,280,300,320,340,360],"format":"d","titleFont":"Liberation Serif","titleFontSize":19,"titleFontWeight":"bold","titlePadding":19}},
"y":{"field":"y","type":"quantitative","scale":{"domain":[-1e5,1e4],"nice":false,"zero":false},
"axis":{"title":null,"values":[-100000,-80000,-60000,-40000,-20000,0],"labelExpr":"datum.value == 0 ? '0.0' : datum.value == -100000 ? '-1.0x10⁵' : '-' + format(-datum.value/1e4, '.1f') + 'x10⁴'"}},
"color":{"field":"s","type":"nominal","sort":null,
"scale":{"domain":["BSA","BSA-CTAB","BSA-CEF","BSA-CTAB-CEF","BSA 72hrs","BSA-CTAB 72hrs","BSA-CEF 72hrs","BSA-CTAB-CEF 72hrs"],"range":["#000000","#ff0000","#0000ff","#008080","#ff00ff","#808000","#000080","#800000"]},
"legend":{"title":null,"orient":"bottom-right","offset":8,"strokeColor":"#999999","padding":3,"labelFont":"Liberation Sans","labelFontWeight":"bold","labelFontSize":16,"labelColor":"black","labelLimit":300,"symbolType":"M-1,0H2.3","symbolSize":420,"symbolStrokeWidth":2.5,"rowPadding":1.5,"labelOffset":18,"fillColor":"white"}}
}},
{"data":{"name":"lb"},"mark":{"type":"text","font":"Liberation Serif","fontSize":26,"fontWeight":"bold","color":"black"},
"encoding":{"x":{"field":"x","type":"quantitative"},"y":{"field":"y","type":"quantitative"},"text":{"field":"t"}}}
]
}
],
"resolve":{"scale":{"color":"independent","x":"independent","y":"independent"},"legend":{"color":"independent"}},
"config":{
"view":{"stroke":"black","strokeWidth":2},
"axis":{"domainColor":"black","domainWidth":2,"tickColor":"black","tickWidth":2,"tickSize":6,"labelFont":"Liberation Sans","labelFontWeight":"bold","labelFontSize":17,"labelColor":"black","grid":false,"titleColor":"black","labelPadding":3}
}
}
